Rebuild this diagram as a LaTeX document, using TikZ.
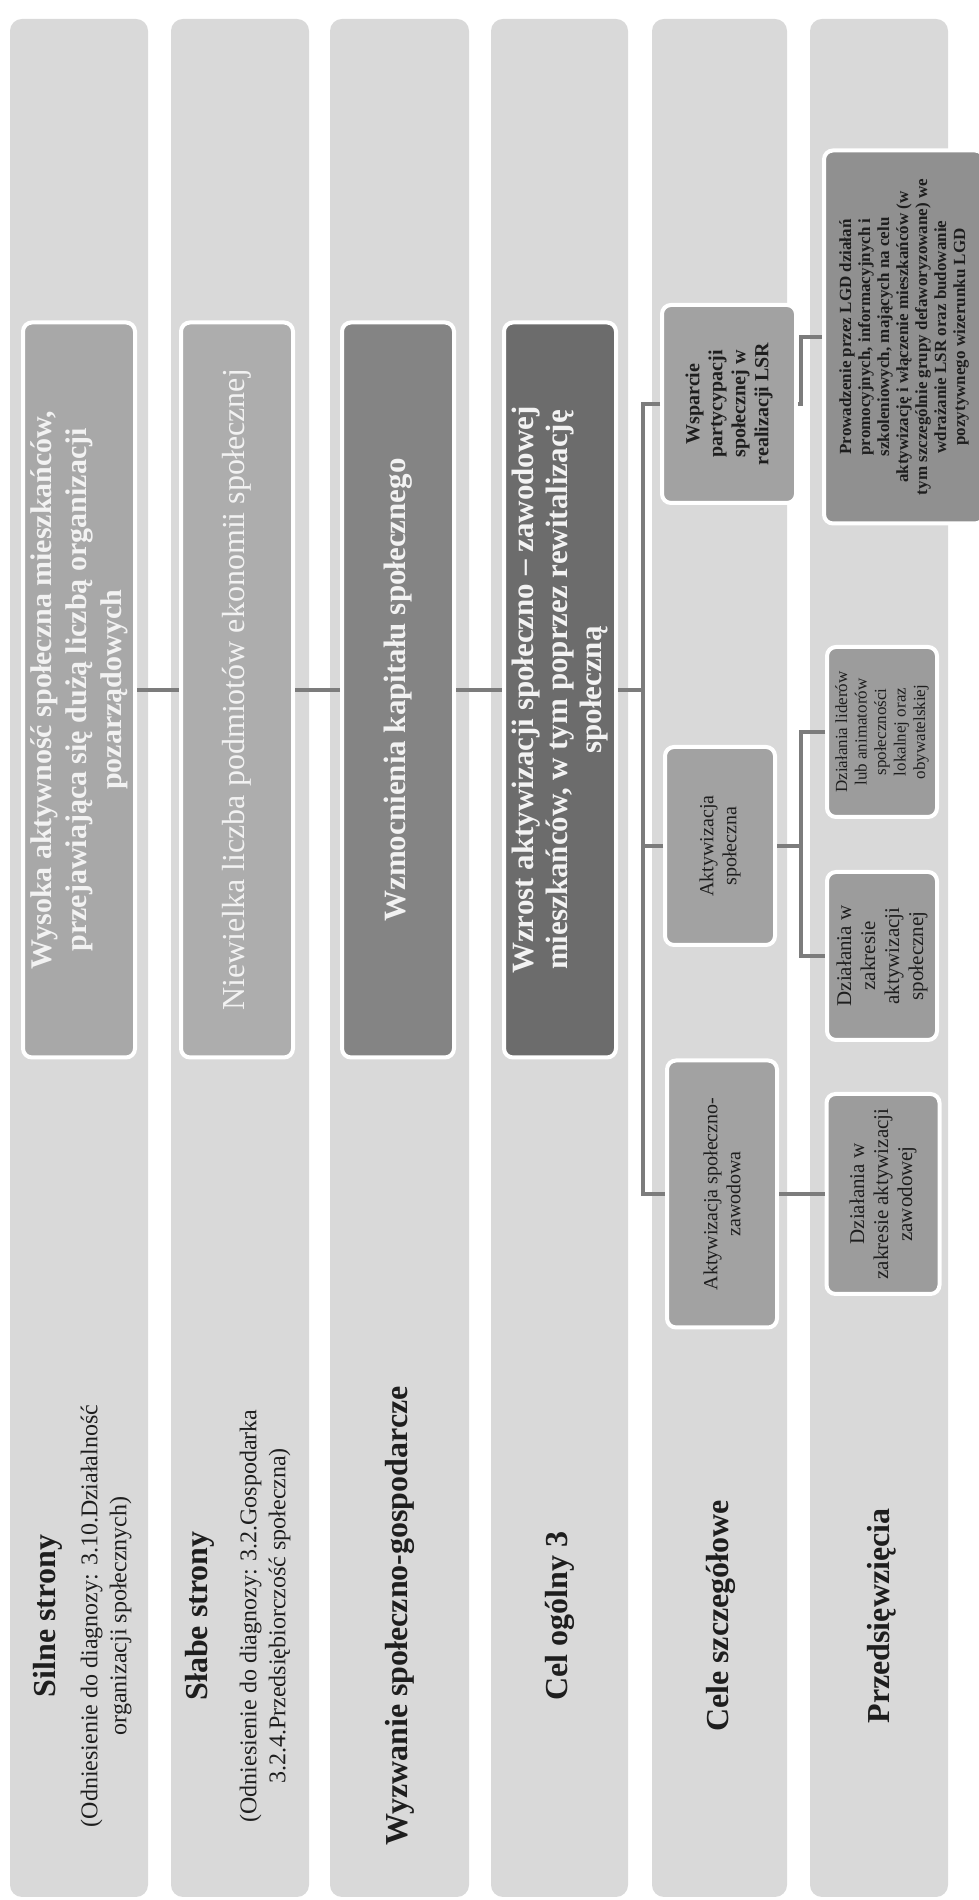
\documentclass[tikz,border=0pt]{standalone}
\usepackage{fontspec}
\setmainfont{Liberation Serif}
\definecolor{bandgray}{HTML}{D9D9D9}
\definecolor{inkgray}{HTML}{1E1E1E}
\definecolor{strgray}{HTML}{A8A8A8}
\definecolor{weakgray}{HTML}{ADADAD}
\definecolor{chalgray}{HTML}{848484}
\definecolor{aimgray}{HTML}{6C6C6C}
\definecolor{goalgray}{HTML}{A2A2A2}
\definecolor{taskgray}{HTML}{9C9C9C}
\definecolor{conngray}{HTML}{7C7C7C}

\begin{document}
\begin{tikzpicture}[x=1pt,y=1pt,
  band/.style={fill=bandgray,rounded corners=12},
  bandtitle/.style={font=\fontsize{32}{36}\selectfont\bfseries,text=inkgray},
  bandref/.style={font=\fontsize{24}{29}\selectfont,text=inkgray,align=center},
  cardbox/.style={draw=white,line width=4,rounded corners=9,inner sep=0,align=center},
  topbox/.style={cardbox,minimum width=735,minimum height=112,text=white!95!black,font=\fontsize{32}{35}\selectfont},
  goalbox/.style={cardbox,fill=goalgray,text=inkgray,font=\fontsize{20}{23}\selectfont},
  taskbox/.style={cardbox,fill=taskgray,text=inkgray,font=\fontsize{18}{20}\selectfont},
  conn/.style={draw=conngray,line width=3.5}]
  \useasboundingbox (0,0) rectangle (979,1900);
  \fill[white] (0,0) rectangle (979,1900);
  \begin{scope}[rotate=90,transform shape]
  \fill[band] (3,-148) rectangle (1881,-10);
  \fill[band] (3,-309) rectangle (1881,-171);
  \fill[band] (3,-469) rectangle (1881,-330);
  \fill[band] (3,-628) rectangle (1881,-491);
  \fill[band] (3,-787) rectangle (1881,-652);
  \fill[band] (3,-948) rectangle (1881,-810);

  \node[bandtitle] (sil) at (284,-48) {Silne strony};
  \node[bandref] (silref) at (284,-106) {(Odniesienie do diagnozy: 3.10.Działalność\\organizacji społecznych)};
  \node[bandtitle] (sla) at (284,-200) {Słabe strony};
  \node[bandref] (slaref) at (284,-265) {(Odniesienie do diagnozy: 3.2.Gospodarka\\3.2.4.Przedsiębiorczość społeczna)};
  \node[bandtitle] (wyz) at (284,-400) {Wyzwanie społeczno-gospodarcze};
  \node[bandtitle] (cel) at (284,-560) {Cel ogólny 3};
  \node[bandtitle] (csz) at (284,-721) {Cele szczegółowe};
  \node[bandtitle] (prz) at (284,-882) {Przedsięwzięcia};

  \node[topbox,fill=strgray,font=\fontsize{30}{35}\selectfont\bfseries] (wys) at (1210,-79)
    {Wysoka aktywność społeczna mieszkańców,\\przejawiająca się dużą liczbą organizacji\\pozarządowych};
  \node[topbox,fill=weakgray] (nie) at (1210,-237) {Niewielka liczba podmiotów ekonomii społecznej};
  \node[topbox,fill=chalgray,font=\fontsize{31}{34}\selectfont\bfseries] (wzm) at (1210,-398) {Wzmocnienia kapitału społecznego};
  \node[topbox,fill=aimgray,font=\fontsize{31}{34}\selectfont\bfseries] (wzr) at (1210,-560)
    {Wzrost aktywizacji społeczno – zawodowej\\mieszkańców, w tym poprzez rewitalizację\\społeczną};

  \node[goalbox,minimum width=267,minimum height=110] (asz) at (706,-722) {Aktywizacja społeczno-\\zawodowa};
  \node[goalbox,minimum width=198,minimum height=110] (asp) at (1054,-720) {Aktywizacja\\społeczna};
  \node[goalbox,minimum width=198,minimum height=134,font=\fontsize{20}{23}\selectfont\bfseries] (wsp) at (1496,-729)
    {Wsparcie\\partycypacji\\społecznej w\\realizacji LSR};

  \node[taskbox,minimum width=200,minimum height=113,font=\fontsize{21}{24}\selectfont] (dzaw) at (706,-883)
    {Działania w\\zakresie aktywizacji\\zawodowej};
  \node[taskbox,minimum width=168,minimum height=110,font=\fontsize{21}{24}\selectfont] (dspo) at (944,-882)
    {Działania w\\zakresie\\aktywizacji\\społecznej};
  \node[taskbox,minimum width=170,minimum height=110,font=\fontsize{17}{19.5}\selectfont] (dlid) at (1168,-882)
    {Działania liderów\\lub animatorów\\społeczności\\lokalnej oraz\\obywatelskiej};
  \node[taskbox,fill=taskgray!92!black,minimum width=373,minimum height=160,font=\fontsize{17}{19}\selectfont\bfseries] (pro) at (1563,-904)
    {Prowadzenie przez LGD działań\\promocyjnych, informacyjnych i\\szkoleniowych, mających na celu\\aktywizację i włączenie mieszkańców (w\\tym szczególnie grupy defaworyzowane) we\\wdrażanie LSR oraz budowanie\\pozytywnego wizerunku LGD};

  \coordinate (spine) at (0,-643);
  \coordinate (spinetwo) at (0,-801);
  \draw[conn] (wys.south) -- (nie.north);
  \draw[conn] (nie.south) -- (wzm.north);
  \draw[conn] (wzm.south) -- (wzr.north);
  \draw[conn] (wzr.south) -- (wzr.south |- spine);
  \draw[conn] (wsp.north) -- (wsp.north |- spine) -| (asz.north);
  \draw[conn] (asp.north) -- (asp.north |- spine);
  \draw[conn] (asz.south) -- (dzaw.north);
  \draw[conn] (asp.south) -- (asp.south |- spinetwo);
  \draw[conn] (dlid.north) -- (dlid.north |- spinetwo) -| (dspo.north);
  \draw[conn] (wsp.south) -- (wsp.south |- spinetwo) -| (pro.north);
  \end{scope}
\end{tikzpicture}
\end{document}
